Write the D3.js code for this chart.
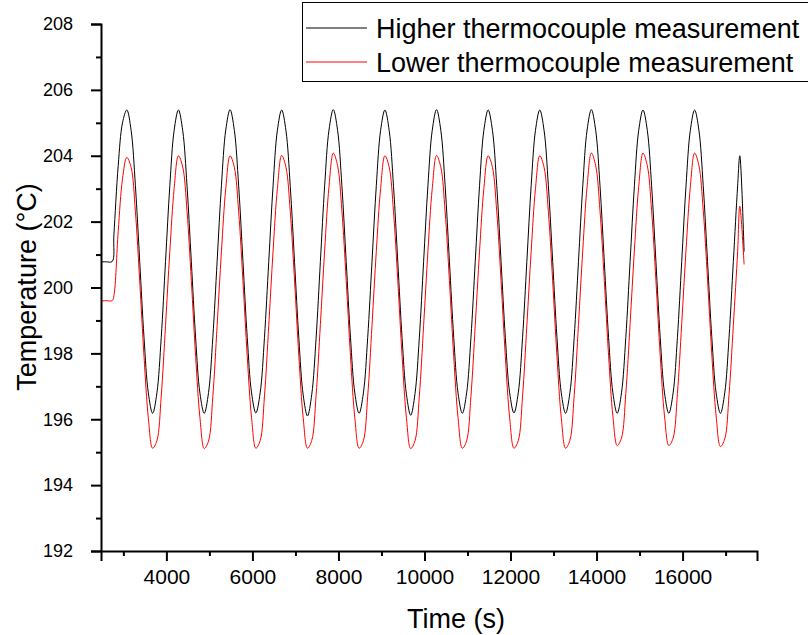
<!DOCTYPE html>
<html><head><meta charset="utf-8">
<script src="https://cdn.jsdelivr.net/npm/d3@7"></script>
<style>body{margin:0;background:#fff}svg{display:block}</style>
</head><body><svg id="c" width="808" height="635"></svg>
<script>
// ---- data ----
const leadTimes = [2480, 2600, 2740];
const sampleStart = 2780, sampleStep = 100, sampleEnd = 17280;
const tailTimes = [17330, 17430];

const higherValues = [
  200.78, 200.78, 200.79,
  201.60, 203.70, 205.00, 205.39,
  204.77, 203.09, 200.79, 198.48, 196.80, 196.18, 196.80, 198.48, 200.79, 203.09, 204.77, 205.39,
  204.76, 203.08, 200.78, 198.47, 196.79, 196.18, 196.81, 198.49, 200.80, 203.10, 204.78, 205.40,
  204.77, 203.09, 200.79, 198.48, 196.80, 196.19, 196.80, 198.48, 200.79, 203.09, 204.77, 205.39,
  204.76, 203.07, 200.76, 198.44, 196.74, 196.10, 196.76, 198.46, 200.79, 203.10, 204.78, 205.40,
  204.77, 203.09, 200.79, 198.48, 196.80, 196.18, 196.80, 198.48, 200.79, 203.09, 204.77, 205.39,
  204.76, 203.07, 200.77, 198.45, 196.76, 196.12, 196.78, 198.47, 200.79, 203.09, 204.77, 205.40,
  204.77, 203.09, 200.79, 198.48, 196.80, 196.18, 196.80, 198.48, 200.79, 203.09, 204.77, 205.39,
  204.77, 203.09, 200.79, 198.48, 196.80, 196.19, 196.80, 198.48, 200.79, 203.09, 204.77, 205.39,
  204.77, 203.09, 200.79, 198.48, 196.80, 196.18, 196.80, 198.48, 200.79, 203.09, 204.78, 205.40,
  204.77, 203.09, 200.79, 198.48, 196.80, 196.18, 196.80, 198.48, 200.79, 203.09, 204.77, 205.39,
  204.77, 203.09, 200.79, 198.48, 196.80, 196.18, 196.80, 198.48, 200.79, 203.09, 204.77, 205.39,
  204.77, 203.09, 200.79, 198.48, 196.80, 196.18, 196.80, 198.48, 200.79, 203.09,
  204.00, 201.09
];

const lowerValues = [
  199.59, 199.60, 199.60,
  199.75, 201.70, 203.30, 203.95,
  203.65, 202.30, 200.20, 197.90, 196.05, 195.12, 195.35, 196.70, 198.85, 201.10, 203.00, 204.00,
  203.66, 202.31, 200.21, 197.91, 196.05, 195.11, 195.34, 196.70, 198.85, 201.10, 203.00, 204.00,
  203.65, 202.30, 200.20, 197.90, 196.05, 195.12, 195.35, 196.70, 198.85, 201.10, 203.00, 204.01,
  203.65, 202.30, 200.20, 197.90, 196.05, 195.12, 195.36, 196.72, 198.88, 201.14, 203.06, 204.08,
  203.70, 202.33, 200.22, 197.91, 196.05, 195.12, 195.35, 196.70, 198.85, 201.10, 203.00, 204.00,
  203.65, 202.30, 200.20, 197.90, 196.05, 195.11, 195.35, 196.70, 198.85, 201.10, 203.00, 204.01,
  203.65, 202.30, 200.20, 197.90, 196.05, 195.12, 195.35, 196.70, 198.85, 201.10, 203.00, 204.00,
  203.65, 202.30, 200.20, 197.90, 196.05, 195.12, 195.35, 196.70, 198.85, 201.10, 203.00, 204.00,
  203.65, 202.30, 200.20, 197.90, 196.05, 195.12, 195.36, 196.72, 198.88, 201.14, 203.06, 204.08,
  203.70, 202.33, 200.22, 197.93, 196.10, 195.20, 195.43, 196.78, 198.90, 201.14, 203.06, 204.08,
  203.70, 202.33, 200.22, 197.93, 196.10, 195.20, 195.43, 196.78, 198.90, 201.14, 203.06, 204.08,
  203.70, 202.35, 200.25, 197.95, 196.10, 195.17, 195.40, 196.75, 198.85, 201.10,
  202.47, 200.70
];

const xTickValues = [4000, 6000, 8000, 10000, 12000, 14000, 16000];
const xMinorTickValues = [3000, 5000, 7000, 9000, 11000, 13000, 15000, 17000];
const yTickValues = [192, 194, 196, 198, 200, 202, 204, 206, 208];
const yMinorTickValues = [193, 195, 197, 199, 201, 203, 205, 207];
const seriesNames = ["Higher thermocouple measurement", "Lower thermocouple measurement"];
const seriesColors = ["#000000", "#ff0000"];
const xTitle = "Time (s)";
const yTitle = "Temperature (°C)";

// ---- build ----
const times = leadTimes.concat(d3.range(sampleStart, sampleEnd + 1, sampleStep), tailTimes);
const series = [higherValues, lowerValues].map((vals, i) => ({
  name: seriesNames[i], color: seriesColors[i],
  points: vals.map((v, j) => [times[j], v])
}));

const svg = d3.select("#c");
svg.append("rect").attr("width", 808).attr("height", 635).attr("fill", "#fff");
const FONT = "'Liberation Sans', Arial, Helvetica, sans-serif";

const x = d3.scaleLinear().domain([2480, 17730]).range([101, 757]);
const y = d3.scaleLinear().domain([192, 208]).range([551, 24]);

// lines
const line = d3.line().x(d => x(d[0])).y(d => y(d[1])).curve(d3.curveCatmullRom.alpha(0.5));
svg.append("g").selectAll("path").data(series).join("path")
  .attr("d", d => line(d.points))
  .attr("fill", "none")
  .attr("stroke", d => d.color)
  .attr("stroke-width", 1);

// x axis
const gx = svg.append("g").attr("transform", "translate(0,551)");
gx.call(d3.axisBottom(x).tickValues(xTickValues).tickSize(10).tickPadding(8).tickFormat(d3.format("d")));
gx.append("g").call(d3.axisBottom(x).tickValues(xMinorTickValues).tickSize(5).tickFormat(""))
  .select(".domain").remove();
gx.selectAll(".domain").attr("stroke", "#000").attr("stroke-width", 2);
gx.selectAll(".tick line").attr("stroke", "#000").attr("stroke-width", 2);
gx.selectAll("text").attr("font-family", FONT).attr("font-size", 21).attr("fill", "#000");

// y axis
const gy = svg.append("g").attr("transform", "translate(101,0)");
gy.call(d3.axisLeft(y).tickValues(yTickValues).tickSize(10).tickPadding(18).tickFormat(d3.format("d")));
gy.append("g").call(d3.axisLeft(y).tickValues(yMinorTickValues).tickSize(5).tickFormat(""))
  .select(".domain").remove();
gy.selectAll(".domain").attr("stroke", "#000").attr("stroke-width", 2);
gy.selectAll(".tick line").attr("stroke", "#000").attr("stroke-width", 2);
gy.selectAll("text").attr("font-family", FONT).attr("font-size", 18).attr("fill", "#000");

// axis titles
svg.append("text").text(xTitle)
  .attr("x", 456).attr("y", 628).attr("text-anchor", "middle")
  .attr("font-family", FONT).attr("font-size", 27).attr("fill", "#000");
svg.append("text").text(yTitle)
  .attr("transform", "translate(36,287) rotate(-90)").attr("text-anchor", "middle")
  .attr("font-family", FONT).attr("font-size", 27).attr("fill", "#000");

// legend
const lg = svg.append("g");
lg.append("rect").attr("x", 302.5).attr("y", 2.5).attr("width", 510).attr("height", 79)
  .attr("fill", "#fff").attr("stroke", "#000").attr("stroke-width", 1);
series.forEach((s, i) => {
  const ly = 28 + i * 34;
  lg.append("line").attr("x1", 306).attr("x2", 367).attr("y1", ly).attr("y2", ly)
    .attr("stroke", s.color).attr("stroke-width", 1);
  lg.append("text").text(s.name).attr("x", 376).attr("y", ly + 9.5)
    .attr("font-family", FONT).attr("font-size", 27).attr("fill", "#000");
});
</script></body></html>
